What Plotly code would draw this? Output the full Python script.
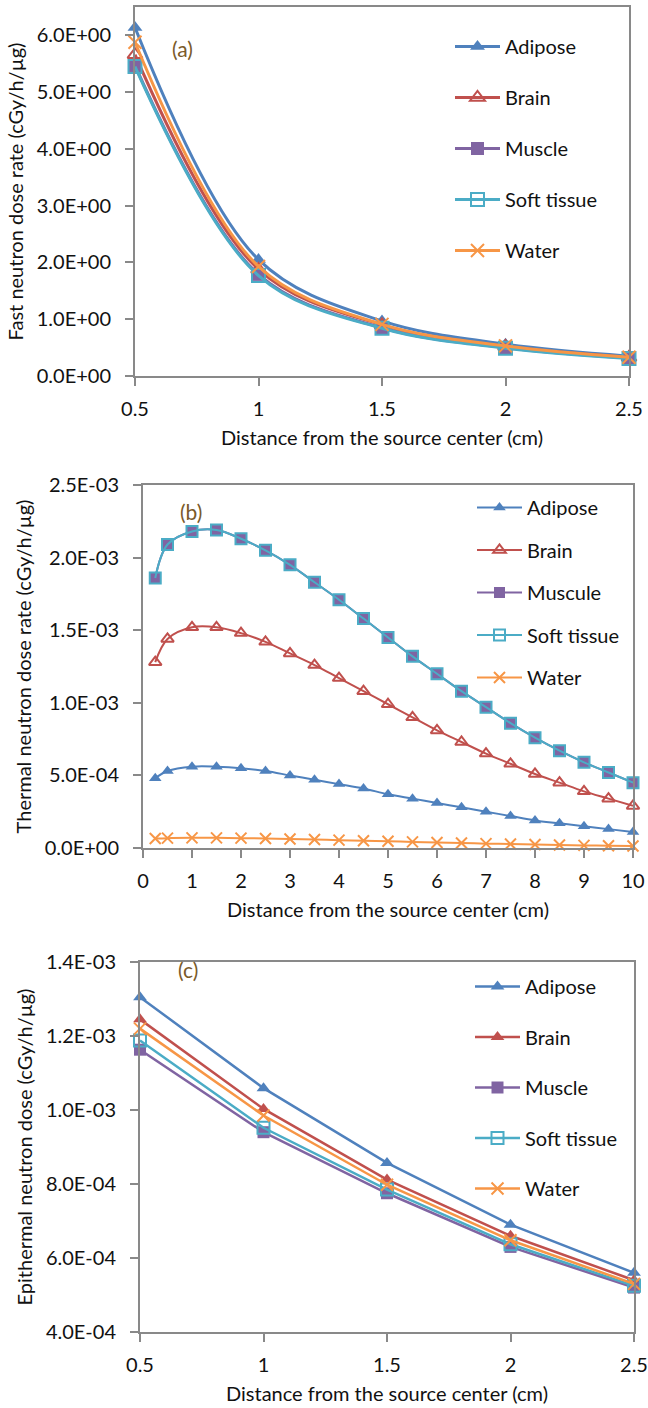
import plotly.graph_objects as go

W, H = 648, 1408
FONT = "Lato"

series_names = ["Adipose", "Brain", "Muscle", "Soft tissue", "Water"]
series_names_b = ["Adipose", "Brain", "Muscule", "Soft tissue", "Water"]
colors = ["#4F81BD", "#C0504D", "#8064A2", "#4BACC6", "#F79646"]

# Panel (a): fast neutron dose rate
x_a = [0.5, 1.0, 1.5, 2.0, 2.5]
a_adipose = [6.14, 2.05, 0.97, 0.56, 0.35]
a_brain = [5.66, 1.88, 0.90, 0.52, 0.33]
a_muscle = [5.47, 1.79, 0.85, 0.50, 0.32]
a_soft = [5.45, 1.77, 0.84, 0.49, 0.31]
a_water = [5.88, 1.93, 0.91, 0.53, 0.33]
a_ticks = [0, 1, 2, 3, 4, 5, 6]
a_ticktext = ["0.0E+00", "1.0E+00", "2.0E+00", "3.0E+00", "4.0E+00", "5.0E+00", "6.0E+00"]
a_xticks = [0.5, 1, 1.5, 2, 2.5]
a_xticktext = ["0.5", "1", "1.5", "2", "2.5"]

# Panel (b): thermal neutron dose rate
x_b = [0.25, 0.5, 1, 1.5, 2, 2.5, 3, 3.5, 4, 4.5, 5, 5.5, 6, 6.5, 7, 7.5, 8, 8.5, 9, 9.5, 10]
b_adipose = [0.48e-3, 0.53e-3, 0.56e-3, 0.56e-3, 0.55e-3, 0.53e-3, 0.50e-3, 0.47e-3, 0.44e-3, 0.41e-3,
             0.37e-3, 0.34e-3, 0.31e-3, 0.28e-3, 0.25e-3, 0.22e-3, 0.19e-3, 0.17e-3, 0.15e-3, 0.13e-3, 0.11e-3]
b_brain = [1.28e-3, 1.44e-3, 1.52e-3, 1.52e-3, 1.48e-3, 1.42e-3, 1.34e-3, 1.26e-3, 1.17e-3, 1.08e-3,
           0.99e-3, 0.90e-3, 0.81e-3, 0.73e-3, 0.65e-3, 0.58e-3, 0.51e-3, 0.45e-3, 0.39e-3, 0.34e-3, 0.29e-3]
b_muscle = [1.86e-3, 2.09e-3, 2.18e-3, 2.19e-3, 2.13e-3, 2.05e-3, 1.95e-3, 1.83e-3, 1.71e-3, 1.58e-3,
            1.45e-3, 1.32e-3, 1.20e-3, 1.08e-3, 0.97e-3, 0.86e-3, 0.76e-3, 0.67e-3, 0.59e-3, 0.52e-3, 0.45e-3]
b_soft = [1.86e-3, 2.09e-3, 2.18e-3, 2.19e-3, 2.13e-3, 2.05e-3, 1.95e-3, 1.83e-3, 1.71e-3, 1.58e-3,
          1.45e-3, 1.32e-3, 1.20e-3, 1.08e-3, 0.97e-3, 0.86e-3, 0.76e-3, 0.67e-3, 0.59e-3, 0.52e-3, 0.45e-3]
b_water = [0.065e-3, 0.068e-3, 0.070e-3, 0.070e-3, 0.068e-3, 0.066e-3, 0.062e-3, 0.058e-3, 0.054e-3, 0.050e-3,
           0.046e-3, 0.042e-3, 0.038e-3, 0.034e-3, 0.030e-3, 0.027e-3, 0.024e-3, 0.021e-3, 0.018e-3, 0.016e-3, 0.014e-3]
b_ticks = [0, 0.5e-3, 1.0e-3, 1.5e-3, 2.0e-3, 2.5e-3]
b_ticktext = ["0.0E+00", "5.0E-04", "1.0E-03", "1.5E-03", "2.0E-03", "2.5E-03"]
b_xticks = [0, 1, 2, 3, 4, 5, 6, 7, 8, 9, 10]

# Panel (c): epithermal neutron dose
x_c = [0.5, 1.0, 1.5, 2.0, 2.5]
c_adipose = [1.305e-3, 1.059e-3, 0.857e-3, 0.690e-3, 0.560e-3]
c_brain = [1.245e-3, 1.003e-3, 0.812e-3, 0.660e-3, 0.540e-3]
c_muscle = [1.163e-3, 0.940e-3, 0.775e-3, 0.630e-3, 0.520e-3]
c_soft = [1.188e-3, 0.952e-3, 0.785e-3, 0.637e-3, 0.525e-3]
c_water = [1.220e-3, 0.985e-3, 0.798e-3, 0.648e-3, 0.530e-3]
c_ticks = [0.4e-3, 0.6e-3, 0.8e-3, 1.0e-3, 1.2e-3, 1.4e-3]
c_ticktext = ["4.0E-04", "6.0E-04", "8.0E-04", "1.0E-03", "1.2E-03", "1.4E-03"]

x_title = "Distance from the source center (cm)"
y_titles = ["Fast neutron dose rate (cGy/h/\u00b5g)",
            "Thermal neutron dose rate (cGy/h/\u00b5g)",
            "Epithermal neutron dose (cGy/h/\u00b5g)"]


def px_x(a, b):
    return [a / W, b / W]


def px_y(top, bottom):
    return [1 - bottom / H, 1 - top / H]


fig = go.Figure()

symbols_a = ["triangle-up", "triangle-up-open", "square", "square-open", "x-thin-open"]
symbols_c = ["triangle-up", "triangle-up", "square", "square-open", "x-thin-open"]


def add_panel(xs, ys_list, names, symbols, xa, ya, legend, shape, lw, msize):
    for i, (ys, name, sym) in enumerate(zip(ys_list, names, symbols)):
        fig.add_trace(go.Scatter(
            x=xs, y=ys, name=name, mode="lines+markers",
            xaxis=xa, yaxis=ya, legend=legend, legendgroup=legend + name,
            line=dict(color=colors[i], width=lw, shape=shape, smoothing=1.0),
            marker=dict(symbol=sym, size=msize, color=colors[i],
                        line=dict(color=colors[i], width=2 if "open" in sym else 0)),
            cliponaxis=False,
        ))


add_panel(x_a, [a_adipose, a_brain, a_muscle, a_soft, a_water], series_names, symbols_a,
          "x", "y", "legend", "spline", 3, 13)
add_panel(x_b, [b_adipose, b_brain, b_muscle, b_soft, b_water], series_names_b, symbols_a,
          "x2", "y2", "legend2", "spline", 2, 11)
add_panel(x_c, [c_adipose, c_brain, c_muscle, c_soft, c_water], series_names, symbols_c,
          "x3", "y3", "legend3", "linear", 2.5, 12)

TXT = "#111111"
axis_common = dict(showline=True, linecolor="#898989", linewidth=2, mirror=True,
                   ticks="outside", tickcolor="#898989", ticklen=8, tickwidth=2,
                   showgrid=False, zeroline=False, automargin=False,
                   tickfont=dict(family=FONT, size=20, color=TXT),
                   title_font=dict(family=FONT, size=20, color=TXT))

leg_font = dict(family=FONT, size=20, color=TXT)

fig.update_layout(
    width=W, height=H, margin=dict(l=0, r=0, t=0, b=0),
    paper_bgcolor="white", plot_bgcolor="white",
    font=dict(family=FONT, size=20, color=TXT),
    xaxis=dict(domain=px_x(135, 629), range=[0.5, 2.5], tickvals=a_xticks, ticktext=a_xticktext,
               anchor="y", title=dict(text=x_title, standoff=12), ticklabelstandoff=6, **axis_common),
    yaxis=dict(domain=px_y(7, 376), range=[0, 6.5], tickvals=a_ticks, ticktext=a_ticktext,
               anchor="x", title=dict(text=y_titles[0], standoff=8), ticklabelstandoff=10, **axis_common),
    xaxis2=dict(domain=px_x(143, 633), range=[0, 10], tickvals=b_xticks,
                anchor="y2", title=dict(text=x_title, standoff=12), ticklabelstandoff=6, **axis_common),
    yaxis2=dict(domain=px_y(485, 848), range=[0, 2.5e-3], tickvals=b_ticks, ticktext=b_ticktext,
                anchor="x2", title=dict(text=y_titles[1], standoff=8), ticklabelstandoff=10, **axis_common),
    xaxis3=dict(domain=px_x(140, 634), range=[0.5, 2.5], tickvals=a_xticks, ticktext=a_xticktext,
                anchor="y3", title=dict(text=x_title, standoff=12), ticklabelstandoff=6, **axis_common),
    yaxis3=dict(domain=px_y(962, 1332), range=[0.4e-3, 1.4e-3], tickvals=c_ticks, ticktext=c_ticktext,
                anchor="x3", title=dict(text=y_titles[2], standoff=8), ticklabelstandoff=10, **axis_common),
    legend=dict(x=450 / W, y=1 - 27 / H, xanchor="left", yanchor="top", tracegroupgap=22,
                bgcolor="rgba(0,0,0,0)", font=leg_font, itemwidth=45),
    legend2=dict(x=472 / W, y=1 - 488 / H, xanchor="left", yanchor="top", tracegroupgap=13.5,
                 bgcolor="rgba(0,0,0,0)", font=leg_font, itemwidth=45),
    legend3=dict(x=470 / W, y=1 - 967 / H, xanchor="left", yanchor="top", tracegroupgap=21.5,
                 bgcolor="rgba(0,0,0,0)", font=leg_font, itemwidth=45),
    showlegend=True,
)

panel_labels = ["(a)", "(b)", "(c)"]
label_pos = [(170, 34), (178, 511), (176, 984)]
for lab, (lx, ly) in zip(panel_labels, label_pos):
    fig.add_annotation(text=lab, x=lx / W, y=1 - ly / H, xref="paper", yref="paper",
                       showarrow=False, font=dict(family=FONT, size=21, color="#7a5a2a"))

fig.write_html("out.html")
